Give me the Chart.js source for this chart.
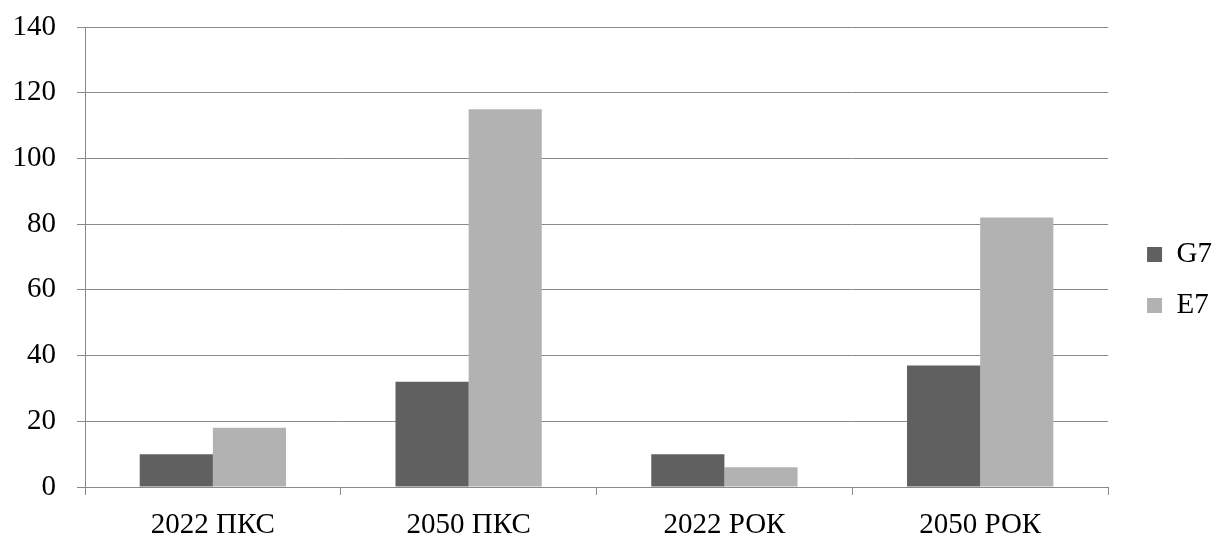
<!DOCTYPE html>
<html>
<head>
<meta charset="utf-8">
<script src="https://cdn.jsdelivr.net/npm/chart.js@4"></script>
<style>
  html, body { margin: 0; padding: 0; background: #fff; }
  #wrap { width: 1214px; height: 539px; }
</style>
</head>
<body>
<div id="wrap"><canvas id="myChart"></canvas></div>
<script>
const categories = ['2022 ПКС', '2050 ПКС', '2022 РОК', '2050 РОК'];
const g7Values = [10, 32, 10, 37];
const e7Values = [18, 115, 6, 82];
const yTicks = [0, 20, 40, 60, 80, 100, 120, 140];

const font = { family: '"Liberation Serif", "Times New Roman", serif', size: 29 };

// nudge the legend away from the plot, like the original
const legendShift = {
    id: 'legendShift',
    afterLayout(chart) {
        const lg = chart.legend;
        lg.left += 17; lg.right += 17;
        lg.top -= 3; lg.bottom -= 3;
    }
};

const ctx = document.getElementById('myChart').getContext('2d');
const myChart = new Chart(ctx, {
    type: 'bar',
    data: {
        labels: categories,
        datasets: [{
            label: 'G7',
            data: g7Values,
            backgroundColor: '#606060',
            barPercentage: 1,
            categoryPercentage: 0.572
        }, {
            label: 'E7',
            data: e7Values,
            backgroundColor: '#b2b2b2',
            barPercentage: 1,
            categoryPercentage: 0.572
        }]
    },
    options: {
        responsive: true,
        maintainAspectRatio: false,
        animation: false,
        layout: { padding: { top: 27, left: 0, right: 9, bottom: 0 } },
        plugins: {
            tooltip: { enabled: false },
            legend: {
                position: 'right',
                labels: {
                    font: font,
                    color: '#000',
                    boxWidth: 15,
                    boxHeight: 15,
                    padding: 22
                }
            }
        },
        scales: {
            x: {
                afterFit: s => { s.height = 52; },
                grid: { drawOnChartArea: false, drawTicks: true, tickLength: 8, color: '#898989' },
                border: { color: '#898989', width: 1 },
                ticks: { font: font, color: '#000', padding: 13 }
            },
            y: {
                min: 0,
                max: 140,
                afterFit: s => { s.width = 85; s.paddingTop = 0; s.paddingBottom = 0; },
                afterBuildTicks: axis => { axis.ticks = yTicks.map(v => ({ value: v })); },
                grid: { color: '#898989', tickLength: 8 },
                border: { color: '#898989', width: 1 },
                ticks: { font: font, color: '#000', padding: 21 }
            }
        }
    },
    plugins: [legendShift]
});
</script>
</body>
</html>
